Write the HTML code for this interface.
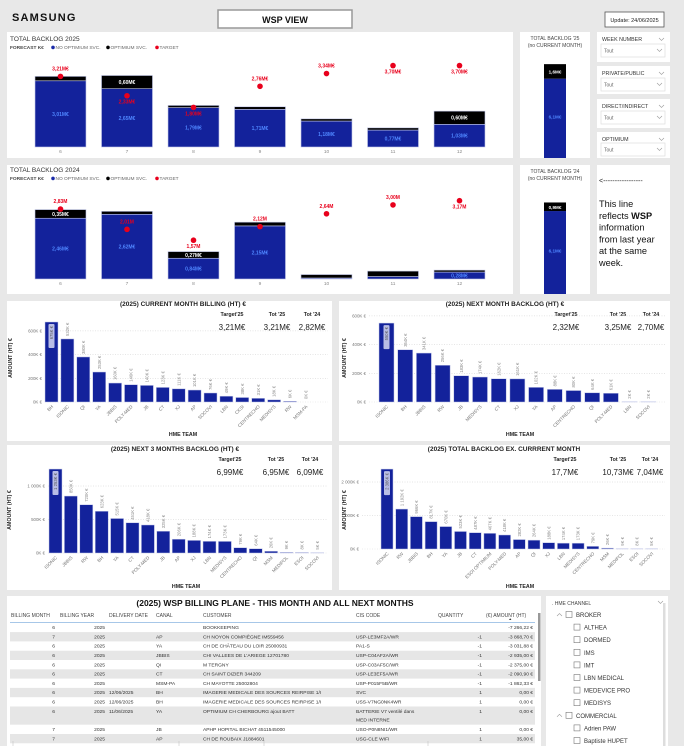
<!DOCTYPE html>
<html><head><meta charset="utf-8"><style>
html,body{margin:0;padding:0;background:#e8e8e8;}
svg{display:block;font-family:"Liberation Sans",sans-serif;}
</style></head><body>
<svg id="root" width="684" height="746" viewBox="0 0 684 746" xmlns="http://www.w3.org/2000/svg">
<rect x="0" y="0" width="684" height="746" fill="#e8e8e8"/>
<text x="12" y="21" font-size="11" font-weight="bold" letter-spacing="1.2" fill="#111">SAMSUNG</text>
<rect x="218" y="10" width="134" height="18" fill="#fff" stroke="#999" stroke-width="1.5"/>
<text x="285" y="23" font-size="9" font-weight="bold" text-anchor="middle" fill="#111">WSP VIEW</text>
<rect x="605" y="12" width="59" height="15" fill="#fff" stroke="#555" stroke-width="0.8"/>
<text x="634.5" y="22" font-size="5.5" text-anchor="middle" fill="#222">Update: 24/06/2025</text>
<g id="panels"></g>
<g id="charts"></g>
</svg>
<script>
var NS="http://www.w3.org/2000/svg";
var root=document.getElementById('root');
var P=document.getElementById('panels');
var G=document.getElementById('charts');
function mk(tag,attrs,parent,txt){var e=document.createElementNS(NS,tag);for(var k in attrs)e.setAttribute(k,attrs[k]);if(txt!==undefined)e.textContent=txt;(parent||G).appendChild(e);return e;}

// ---- panels ----
var panelBoxes=[["backlog-2025-panel",7,32,506,126],["side-2025-panel",520,32,70,126],["filter-week-panel",597,32,73,30],["filter-private-panel",597,66,73,28],["filter-direct-panel",597,99,73,29],["filter-optimium-panel",597,132,73,26],
["backlog-2024-panel",7,165,506,129],["side-2024-panel",520,165,70,129],["note-panel",597,165,73,129],
["current-billing-panel",7,301,325,140],["next-month-panel",339,301,331,140],["next-3-months-panel",7,445,325,145],["total-backlog-panel",339,445,331,145],
["billing-table-panel",7,596,534,150],["hme-channel-panel",546,596,122,150]];
panelBoxes.forEach(function(b){var r=mk('rect',{x:b[1],y:b[2],width:b[3],height:b[4],fill:'#fff'},P);

});

// ---- monthly stacked charts data ----
var months=["6","7","8","9","10","11","12"];
var blue2025=[3.01,2.65,1.79,1.71,1.18,0.77,1.03];
var black2025=[0.2,0.6,0.1,0.12,0.1,0.1,0.6];
var target2025=[3.21,2.33,1.80,2.76,3.34,3.70,3.70];
var tpos2025=["a","b","b","a","a","b","b"];
var blue2024=[2.46,2.62,0.84,2.15,0.04,0.1,0.28];
var black2024=[0.35,0.12,0.27,0.15,0.14,0.22,0.08];
var target2024=[2.83,2.01,1.57,2.12,2.64,3.00,3.17];
var tpos2024=["a","a","b","a","a","a","b"];

function fmt(v){return v.toFixed(2).replace('.',',');}
function drawMonthly(id,title,ptop,base,scale,blue,black,target,tpos,tsuf){
  var t=mk('text',{x:10,y:ptop+9,'font-size':6.5,fill:'#333'},G,title);
  
  
  var lg=mk('g',{},G);
  
  
  var ly=ptop+17;
  mk('text',{x:10,y:ly,'font-size':4.8,'font-weight':'bold',fill:'#444'},lg,'FORECAST K€');
  [['#1a2aa8','NO OPTIMIUM SVC.',53],['#000','OPTIMIUM SVC.',108],['#e8001c','TARGET',157]].forEach(function(l){
    mk('circle',{cx:l[2],cy:ly-1.6,r:1.8,fill:l[0]},lg);
    mk('text',{x:l[2]+2.5,y:ly,'font-size':4.8,fill:'#666'},lg,l[1]);});
  function xc(i){return 60.5+66.5*i;}
  function y(v){return base-v*scale;}
  for(var i=0;i<months.length;i++){
    var x=xc(i)-25.5,yb=y(blue[i]),yk=y(blue[i]+black[i]);
    var r1=mk('rect',{x:x,y:yb,width:51,height:base-yb,fill:'#13229b',stroke:'#c3c8e8','stroke-width':0.6});
    
    
    var r2=mk('rect',{x:x,y:yk,width:51,height:yb-yk,fill:'#000',stroke:'#c3c8e8','stroke-width':0.6});
    
    
    if(blue[i]>=0.25){var bl=mk('text',{x:xc(i),y:(yb+base)/2+2,'font-size':5,'font-weight':'bold','text-anchor':'middle',fill:'#4f86ff'},G,fmt(blue[i])+'M€');
      
      }
    if(black[i]>=0.25){var kl=mk('text',{x:xc(i),y:(yk+yb)/2+2,'font-size':5,'font-weight':'bold','text-anchor':'middle',fill:'#fff'},G,fmt(black[i])+'M€');
      
      }
    var ty=y(target[i]);
    var d=mk('circle',{cx:xc(i),cy:ty,r:2.8,fill:'#e8001c'});
    
    
    var tl=mk('text',{x:xc(i),y:tpos[i]=='a'?ty-6:ty+8,'font-size':5,'font-weight':'bold','text-anchor':'middle',fill:'#e8001c'},G,fmt(target[i])+tsuf);
    
    
    var ml=mk('text',{x:xc(i),y:base+6,'font-size':4.8,'text-anchor':'middle',fill:'#888'},G,months[i]);
    
    
  }
}
drawMonthly('backlog-2025','TOTAL BACKLOG 2025',32,147,22,blue2025,black2025,target2025,tpos2025,'M€');
drawMonthly('backlog-2024','TOTAL BACKLOG 2024',163,279,24.7,blue2024,black2024,target2024,tpos2024,'M');

// ---- side totals ----
var sideBlue=[6.1,6.1];
var sideBlack=[1.6,0.9];
function drawSide(id,t1,ptop,bottom,sc,blueV,blackV){
  var a=mk('text',{x:555,y:ptop+8,'font-size':5,'text-anchor':'middle',fill:'#444'},G,t1);
  
  
  var b=mk('text',{x:555,y:ptop+15,'font-size':5,'text-anchor':'middle',fill:'#444'},G,'(no CURRENT MONTH)');
  
  
  var yb=bottom-blueV*sc,yk=yb-blackV*sc*0.7;
  var r=mk('rect',{x:544,y:yb,width:22,height:bottom-yb,fill:'#13229b'});
  
  
  var k=mk('rect',{x:544,y:yk,width:22,height:yb-yk,fill:'#000'});
  
  
  var l1=mk('text',{x:555,y:(yk+yb)/2+2,'font-size':4.6,'font-weight':'bold','text-anchor':'middle',fill:'#fff'},G,String(blackV).replace('.',',')+'M€');
  
  
  var l2=mk('text',{x:555,y:(yb+bottom)/2,'font-size':4.6,'font-weight':'bold','text-anchor':'middle',fill:'#4f86ff'},G,String(blueV).replace('.',',')+'M€');
  
  
}
drawSide('side-2025',"TOTAL BACKLOG '25",32,158,13,sideBlue[0],sideBlack[0]);
drawSide('side-2024',"TOTAL BACKLOG '24",165,294,13.6,sideBlue[1],sideBlack[1]);

// ---- filters ----
var filters=[["WEEK NUMBER",32,44],["PRIVATE/PUBLIC",66,78],["DIRECT/INDIRECT",99,111],["OPTIMIUM",132,143]];
filters.forEach(function(f,i){
  var slug=['week-number','private-public','direct-indirect','optimium'][i];
  var t=mk('text',{x:602,y:f[1]+9,'font-size':5.3,fill:'#333'},G,f[0]);
  
  
  mk('path',{d:'M659 '+(f[1]+6)+' l2.5 2.5 l2.5 -2.5',fill:'none',stroke:'#999','stroke-width':0.6});
  var g=mk('g',{},G);
  
  
  mk('rect',{x:601,y:f[2],width:64,height:13,fill:'#fff',stroke:'#ddd','stroke-width':0.7},g);
  mk('text',{x:604,y:f[2]+8.5,'font-size':5,fill:'#666'},g,'Tout');
  mk('path',{d:'M657 '+(f[2]+5)+' l2.5 2.5 l2.5 -2.5',fill:'none',stroke:'#999','stroke-width':0.6},g);
});
var note=mk('g',{},G);


mk('text',{x:599,y:183,'font-size':7,fill:'#222'},note,'<-----------------');
["This line","reflects WSP","information","from last year","at the same","week."].forEach(function(s,i){
  var t=mk('text',{x:599,y:207+i*11.8,'font-size':9.2,fill:'#111'},note);
  if(s=="reflects WSP"){mk('tspan',{},t,'reflects ');mk('tspan',{'font-weight':'bold'},t,'WSP');}else t.textContent=s;
});

// ---- team bar charts data ----
var teamsA=["BH","ISONIC","QI","YA","JBBIS","POLY-MED","JB","CT","XJ","AP","SOCOVI","LBN","CKSI","CENTRECHO","MEDISYS","RW","MSM-PA"];
var valsA=[675,532,380,253,160,146,140,123,111,101,76,49,38,31,18,6,0];
var ticksA=[0,200,400,600];
var kpiA=["3,21M€","3,21M€","2,82M€"];
var teamsB=["ISONIC","BH","JBBIS","RW","JB","MEDISYS","CT","XJ","YA","AP","CENTRECHO","QI","POLY-MED","LBN","SOCOVI"];
var valsB=[550,364,341,256,183,174,162,161,102,88,80,64,61,2,2];
var ticksB=[0,200,400,600];
var kpiB=["2,32M€","3,25M€","2,70M€"];
var teamsC=["ISONIC","JBBIS","RW","BH","YA","CT","POLY-MED","JB","AP","XJ","LBN","MEDISYS","CENTRECHO","QI","MSM","MEDIPOL","ESOI","SOCOVI"];
var valsC=[1253,850,720,623,515,451,418,325,206,188,174,173,79,64,26,9,8,5];
var ticksC=[0,500,1000];
var kpiC=["6,99M€","6,95M€","6,09M€"];
var teamsD=["ISONIC","RW","JBBIS","BH","YA","JB","CT","ESOI OPTIMIUM","POLY-MED","AP","QI","XJ","LBN","MEDISYS","CENTRECHO","MSM","MEDIPOL","ESOI","SOCOVI"];
var valsD=[2386,1192,966,817,670,523,487,467,418,282,264,188,174,173,79,26,9,8,5];
var ticksD=[0,1000,2000];
var kpiD=["17,7M€","10,73M€","7,04M€"];

function kfmt(v){var s=String(Math.round(v));if(s.length>3)s=s.slice(0,s.length-3)+' '+s.slice(-3);return s+'K €';}
function drawTeam(id,c){
  var t=mk('text',{x:c.tx,y:c.ty,'font-size':6.5,'font-weight':'bold','text-anchor':'middle',fill:'#222'},G,c.title);
  
  
  ["Target'25","Tot '25","Tot '24"].forEach(function(h,i){
    var a=mk('text',{x:c.kx[i],y:c.ty+10,'font-size':5.3,'font-weight':'bold','text-anchor':'middle',fill:'#222'},G,h);
    
    
    var b=mk('text',{x:c.kx[i],y:c.ty+24,'font-size':8,'text-anchor':'middle',fill:'#222'},G,c.kpi[i]);
    
    });
  function y(v){return c.base-v*c.sc;}
  function x(i){return c.x0+c.step*i;}
  var maxv=Math.max.apply(null,c.vals);
  c.ticks.forEach(function(tk){
    if(tk>0){var gl=mk('line',{x1:c.ax+3,x2:c.xend,y1:y(tk),y2:y(tk),stroke:'#ccc','stroke-width':0.5,'stroke-dasharray':'1,1.5'});
      
      }
    else{mk('line',{x1:c.ax+3,x2:c.xend,y1:y(0),y2:y(0),stroke:'#ddd','stroke-width':0.5,'stroke-dasharray':'1,1.5'});}
    var l=mk('text',{x:c.ax,y:y(tk)+1.5,'font-size':4.4,'text-anchor':'end',fill:'#777'},G,kfmt(tk));
    
    });
  for(var i=0;i<c.teams.length;i++){
    var yy=y(c.vals[i]);
    var r=mk('rect',{x:x(i),y:yy,width:c.bw,height:c.base-yy,fill:'#13229b',stroke:'#c3c8e8','stroke-width':0.5});
    
    
    var cx=x(i)+c.bw/2;
    var vl;
    if(c.vals[i]===maxv){
      mk('rect',{x:cx-3,y:yy+2,width:6,height:24,rx:1,fill:'#b8bde6'});
      vl=mk('text',{x:cx+1.6,y:yy+4,'font-size':4.2,'text-anchor':'end',fill:'#555',transform:'rotate(-90 '+(cx+1.6)+' '+(yy+4)+')'},G,kfmt(c.vals[i]));
    }else{
      vl=mk('text',{x:cx+1.6,y:yy-3,'font-size':4.2,fill:'#888',transform:'rotate(-90 '+(cx+1.6)+' '+(yy-3)+')'},G,kfmt(c.vals[i]));}
    
    
    var xl=mk('text',{x:cx+2,y:c.base+5,'font-size':4.6,'text-anchor':'end',fill:'#777',transform:'rotate(-45 '+(cx+2)+' '+(c.base+5)+')'},G,c.teams[i]);
    
    
  }
  var yt=mk('text',{x:c.ytx,y:c.yty,'font-size':5.3,'font-weight':'bold','text-anchor':'middle',fill:'#222',transform:'rotate(-90 '+c.ytx+' '+c.yty+')'},G,'AMOUNT (HT) €');
  
  
  var xt=mk('text',{x:c.xtx,y:c.xty,'font-size':5.3,'font-weight':'bold','text-anchor':'middle',fill:'#222'},G,'HME TEAM');
  
  
}
drawTeam('current-billing',{title:'(2025) CURRENT MONTH BILLING (HT) €',tx:183,ty:306,kx:[232,277,312],kpi:kpiA,teams:teamsA,vals:valsA,ticks:ticksA,base:402,sc:0.1185,ax:42,x0:45,step:15.9,bw:13,xend:328,ytx:12,yty:358,xtx:183,xty:436});
drawTeam('next-month-backlog',{title:'(2025) NEXT MONTH BACKLOG (HT) €',tx:505,ty:306,kx:[566,618,651],kpi:kpiB,teams:teamsB,vals:valsB,ticks:ticksB,base:402,sc:0.1435,ax:366,x0:379,step:18.7,bw:15,xend:665,ytx:346,yty:358,xtx:520,xty:436});
drawTeam('next-3-months',{title:'(2025) NEXT 3 MONTHS BACKLOG (HT) €',tx:175,ty:451,kx:[230,276,310],kpi:kpiC,teams:teamsC,vals:valsC,ticks:ticksC,base:553,sc:0.067,ax:45,x0:49,step:15.4,bw:13,xend:328,ytx:11,yty:510,xtx:186,xty:588});
drawTeam('total-backlog-ex-current',{title:'(2025) TOTAL BACKLOG EX. CURRRENT MONTH',tx:504,ty:451,kx:[565,618,650],kpi:kpiD,teams:teamsD,vals:valsD,ticks:ticksD,base:549,sc:0.0335,ax:359,x0:381,step:14.7,bw:12,xend:665,ytx:346,yty:510,xtx:520,xty:588});

// ---- table ----
var tt=mk('text',{x:275,y:606,'font-size':8.5,'font-weight':'bold','text-anchor':'middle',fill:'#111'},G,'(2025) WSP BILLING PLANE - THIS MONTH AND ALL NEXT MONTHS');


var heads=[["BILLING MONTH",11],["BILLING YEAR",60],["DELIVERY DATE",109],["CANAL",156],["CUSTOMER",203],["CIS CODE",356],["QUANTITY",438],["(€) AMOUNT (HT)",486]];
heads.forEach(function(h,i){var t=mk('text',{x:h[1],y:617,'font-size':5,fill:'#444'},G,h[0]);
  
  });
mk('path',{d:'M509 620 l1.2 -1.8 l1.2 1.8z',fill:'#333'});
mk('line',{x1:10,x2:535,y1:622.5,y2:622.5,stroke:'#8ab4e0','stroke-width':0.8});
var rows=[["6","2025","","","BOOKKEEPING","","","-7 266,22 €"],["7","2025","","AP","CH NOYON COMPIÈGNE IM559456","USP-LE3MF2A/WR","-1","-3 868,70 €"],["6","2025","","YA","CH DE CHÂTEAU DU LOIR 25000931","PA1-S","-1","-3 031,88 €"],["6","2025","","JBBIS","CHI VALLEES DE L'ARIEGE 12701780","USP-C04AF2A/WR","-1","-2 935,00 €"],["6","2025","","QI","M TERGNY","USP-C03AF5C/WR","-1","-2 375,00 €"],["6","2025","","CT","CH SAINT DIZIER 344209","USP-LE3EF5A/WR","-1","-2 090,90 €"],["6","2025","","MSM-PA","CH MAYOTTE 25002804","USP-P015F5B/WR","-1","-1 862,33 €"],["6","2025","12/06/2025","BH","IMAGERIE MEDICALE DES SOURCES REIRPISE 1/I","SVC","1","0,00 €"],["6","2025","12/06/2025","BH","IMAGERIE MEDICALE DES SOURCES REIRPISE 1/I","USS-V7NG0NK4WR","1","0,00 €"],["6","2025","11/06/2025","YA","OPTIMIUM CH CHERBOURG ajout BATT","BATTERIE V7 ventilé dans|MED INTERNE","1","0,00 €"],["7","2025","","JB","APHP HOPITAL BICHAT 4511545000","USO-P0N8NI1/WR","1","0,00 €"],["7","2025","","AP","CH DE ROUBAIX J1884601","USG-CLE WIFI","1","35,00 €"]];
var ry=622.8;
rows.forEach(function(r,i){
  var h=(i==9)?18.2:9.3;
  var g=mk('g',{},G);
  
  
  if(i%2==1)mk('rect',{x:10,y:ry,width:525,height:h,fill:'#e6e6e6'},g);
  var ty=ry+6.3;
  var cols=[[r[0],55,'end'],[r[1],105,'end'],[r[2],109,'start'],[r[3],156,'start'],[r[4],203,'start'],[r[5],356,'start'],[r[6],482,'end'],[r[7],533,'end']];
  cols.forEach(function(c){if(!c[0])return;c[0].split('|').forEach(function(s,k){mk('text',{x:c[1],y:ty+k*8.5,'font-size':4.9,'text-anchor':c[2],fill:'#333'},g,s);});});
  ry+=h;
});
var sb=mk('rect',{x:538,y:613,width:2.5,height:68,fill:'#999'});


[13,179,264,428].forEach(function(x){mk('line',{x1:x,x2:x,y1:741,y2:746,stroke:'#bbb','stroke-width':0.5});});

// ---- HME channel slicer ----
var sh=mk('text',{x:552,y:605,'font-size':5,fill:'#444'},G,'. HME CHANNEL');


mk('path',{d:'M658 601 l2.5 2.5 l2.5 -2.5',fill:'none',stroke:'#999','stroke-width':0.6});
var items=[["BROKER",0],["ALTHEA",1],["DORMED",1],["IMS",1],["IMT",1],["LBN MEDICAL",1],["MEDEVICE PRO",1],["MEDISYS",1],["COMMERCIAL",0],["Adrien PAW",1],["Baptiste HUPET",1]];
items.forEach(function(it,i){
  var y=615+i*12.6;
  var g=mk('g',{},G);
  
  
  var bx=it[1]?574:566;
  if(!it[1])mk('path',{d:'M557 '+(y+1)+' l2.5 -2.5 l2.5 2.5',fill:'none',stroke:'#999','stroke-width':0.6},g);
  mk('rect',{x:bx,y:y-3.5,width:6,height:6,fill:'#fff',stroke:'#777','stroke-width':0.6},g);
  mk('text',{x:bx+10,y:y+2,'font-size':6,fill:'#333'},g,it[0]);
});
var ss=mk('rect',{x:663,y:603,width:2.5,height:143,fill:'#ddd'});


</script>
</body></html>
